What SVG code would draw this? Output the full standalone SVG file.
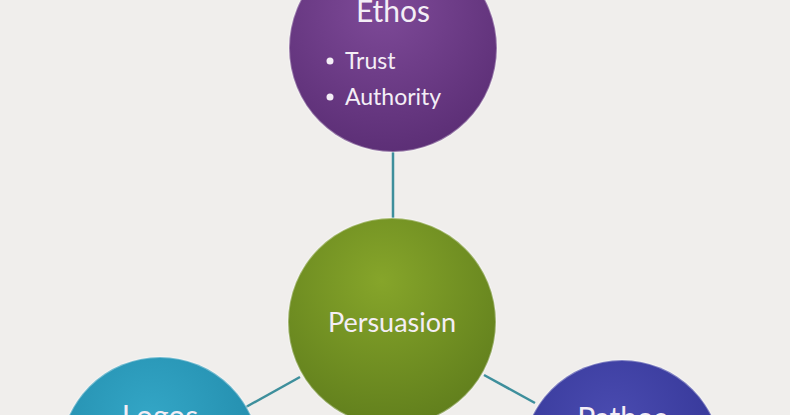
<svg xmlns="http://www.w3.org/2000/svg" width="790" height="415" viewBox="0 0 790 415">
<defs>
<radialGradient id="gP" cx="0.45" cy="0.3" r="0.75"><stop offset="0" stop-color="#7e4a98"/><stop offset="1" stop-color="#5a2d74"/></radialGradient>
<radialGradient id="gG" cx="0.45" cy="0.3" r="0.75"><stop offset="0" stop-color="#86a52a"/><stop offset="1" stop-color="#5f7d1c"/></radialGradient>
<radialGradient id="gB" cx="0.45" cy="0.3" r="0.75"><stop offset="0" stop-color="#33a6c6"/><stop offset="1" stop-color="#1f86a6"/></radialGradient>
<radialGradient id="gN" cx="0.45" cy="0.3" r="0.75"><stop offset="0" stop-color="#4a4bb0"/><stop offset="1" stop-color="#303292"/></radialGradient>
<style>
text{font-family:Lato,"Open Sans","Liberation Sans",sans-serif;fill:#f4eef6}
.t{font-size:30px;text-anchor:middle}
.b{font-size:23px}
.c{stroke-width:2;stroke:#ffffff;stroke-opacity:0.35}
</style>
</defs>
<rect width="790" height="415" fill="#f0eeec"/>
<g id="connectors" stroke="#3e8f9c" stroke-width="2.5">
<line x1="393" y1="152" x2="393" y2="218"/>
<line x1="300" y1="377" x2="246" y2="407"/>
<line x1="484" y1="375" x2="535" y2="403"/>
</g>
<g id="ethos">
<circle cx="393" cy="48" r="104" fill="url(#gP)" class="c"/>
<text class="t" x="393" y="22">Ethos</text>
<circle cx="330" cy="61" r="3.5" fill="#f4eef6"/>
<text class="b" x="345" y="69">Trust</text>
<circle cx="330" cy="97" r="3.5" fill="#f4eef6"/>
<text class="b" x="345" y="105">Authority</text>
</g>
<g id="persuasion">
<circle cx="392" cy="322" r="104" fill="url(#gG)" class="c"/>
<text class="t" x="392" y="332" style="font-size:27px">Persuasion</text>
</g>
<g id="logos">
<circle cx="160" cy="457" r="100" fill="url(#gB)" class="c"/>
<text class="t" x="160" y="427">Logos</text>
</g>
<g id="pathos">
<circle cx="622" cy="460" r="100" fill="url(#gN)" class="c"/>
<text class="t" x="622" y="429">Pathos</text>
</g>
</svg>
